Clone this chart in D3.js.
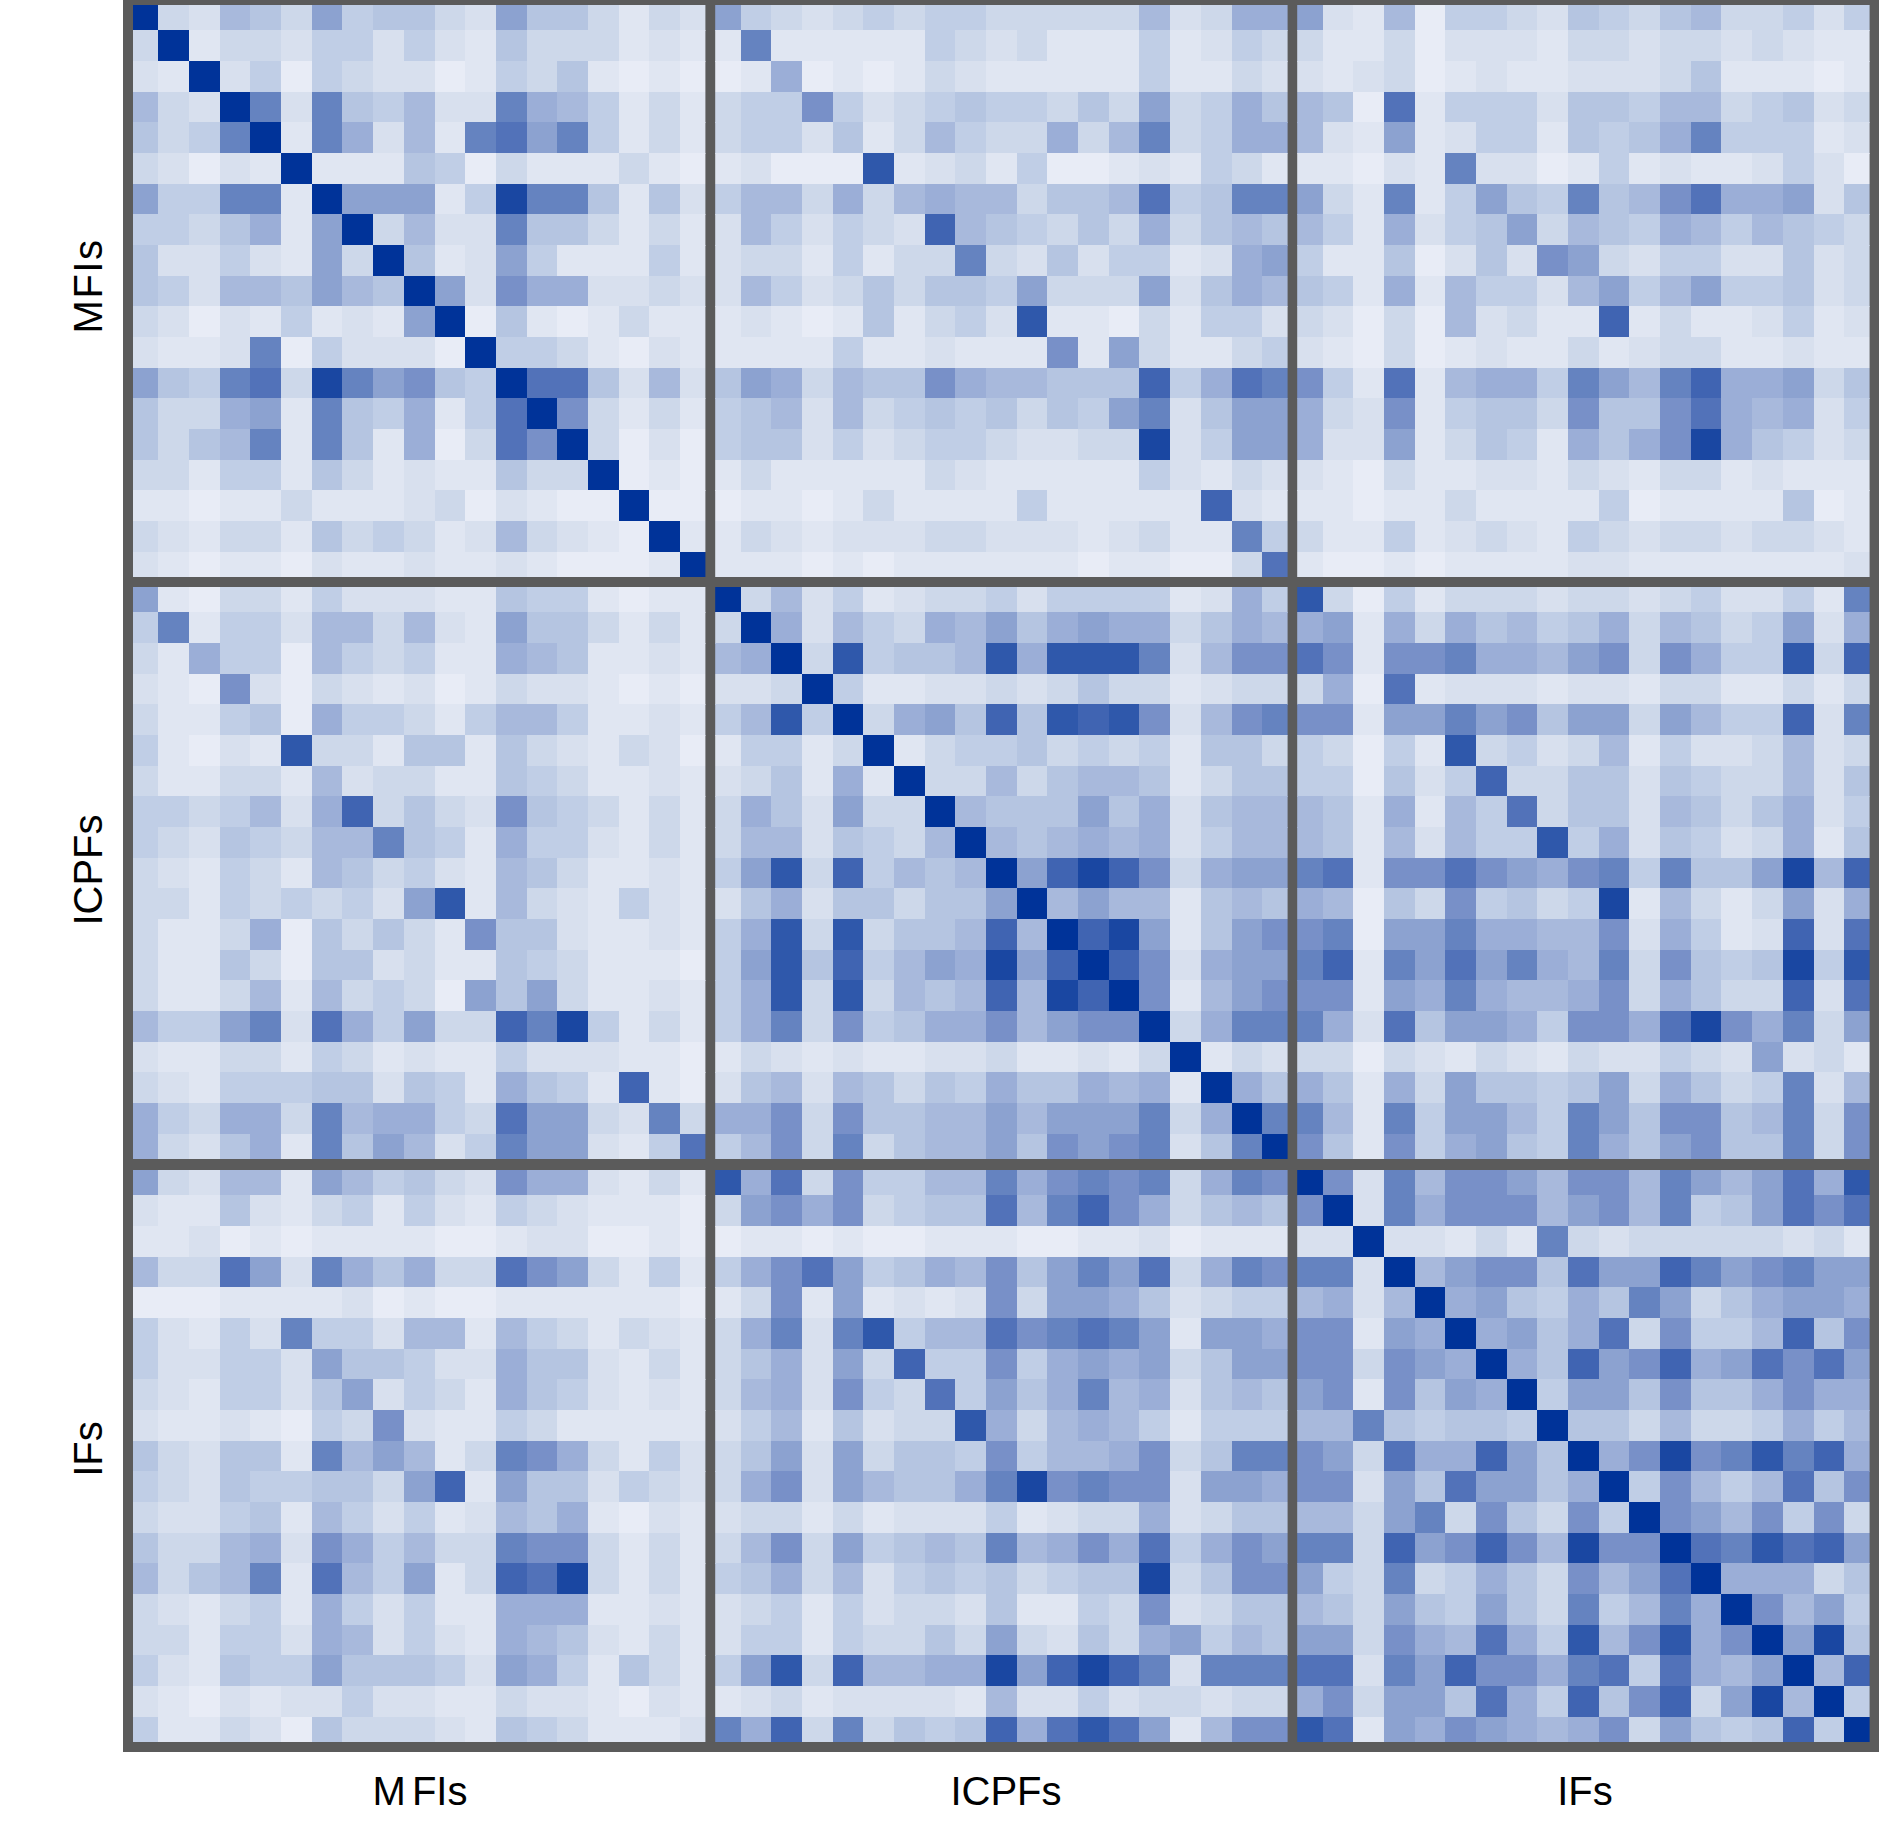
<!DOCTYPE html>
<html><head><meta charset="utf-8">
<style>html,body{margin:0;background:#fff}svg{display:block}text{font-family:"Liberation Sans",Arial,sans-serif;fill:#000}</style>
<script src="https://cdn.jsdelivr.net/npm/d3@7"></script></head><body><div id="c"></div>
<script>
const groups = ["MFIs","ICPFs","IFs"];
const colorStops = ["#E8ECF6","#E0E6F2","#D8E0EE","#CDD8EA","#C0CEE6","#B5C5E1","#A8B9DC","#9BAED7","#8CA2D0","#7890C8","#6583C0","#5272B9","#4064B2","#2F58AB","#1A47A2","#003399"];
// values are shading levels 0..15; diagonal blocks list the upper triangle only
const mfiMfi = [
[15,3,2,6,5,3,8,4,5,5,3,2,8,5,5,3,1,3,2],
[15,1,3,3,2,4,4,2,4,2,1,5,3,3,3,1,2,1],
[15,2,4,0,4,3,2,2,0,1,4,3,5,1,0,1,0],
[15,10,2,10,5,4,6,2,2,10,7,6,4,1,3,1],
[15,1,10,7,2,6,1,10,11,8,10,4,1,3,1],
[15,1,1,1,5,4,0,3,1,1,1,3,1,0],
[15,8,8,8,1,4,14,10,10,5,1,5,2],
[15,3,6,2,2,10,5,5,3,1,3,1],
[15,5,1,2,8,4,1,1,1,4,1],
[15,8,2,9,7,7,2,2,3,2],
[15,0,5,1,0,1,3,1,1],
[15,4,4,3,1,0,2,1],
[15,11,11,5,2,6,2],
[15,9,3,1,3,1],
[15,3,0,2,0],
[15,0,1,0],
[15,0,0],
[15,1],
[15]];
const mfiIcpf = [
[8,4,3,2,3,4,3,4,4,3,3,3,3,3,6,2,3,7,7],
[1,10,1,1,1,1,1,4,3,2,3,1,1,1,4,1,2,4,3],
[0,1,7,0,1,0,1,3,2,1,1,1,1,1,4,1,1,3,2],
[3,4,4,9,4,2,3,4,5,4,4,3,5,3,8,3,4,7,5],
[3,4,4,2,5,1,3,6,4,3,3,7,3,6,10,3,4,7,7],
[1,2,0,0,0,13,1,2,3,1,4,0,0,1,2,1,4,3,1],
[4,6,6,3,7,3,6,7,6,6,3,5,5,6,11,4,5,10,10],
[2,6,4,2,4,3,2,12,6,5,4,3,5,3,7,3,5,6,5],
[2,3,3,1,4,1,3,3,10,3,2,5,2,4,4,1,2,7,8],
[2,6,4,2,3,5,3,5,5,4,8,3,3,3,8,2,5,7,6],
[1,2,1,0,1,5,1,3,4,2,13,1,1,0,3,1,4,4,2],
[1,1,1,1,4,1,1,2,1,1,1,9,1,8,3,1,1,3,4],
[5,8,7,3,6,5,5,9,7,6,6,5,5,5,12,4,7,11,10],
[4,5,6,2,6,3,4,5,4,5,3,5,4,8,10,2,5,8,8],
[4,5,5,2,4,2,3,4,4,3,2,2,3,3,14,2,4,8,8],
[1,3,1,1,1,1,1,3,2,1,1,1,1,1,4,2,1,3,2],
[0,1,1,0,1,3,1,1,1,1,4,1,1,1,1,1,12,2,1],
[1,3,2,1,2,2,2,3,3,2,2,2,1,2,3,1,1,10,4],
[1,1,1,0,1,0,1,1,1,1,1,1,0,1,1,0,0,3,11]];
const mfiIf = [
[8,2,1,6,0,4,4,3,2,5,4,3,5,6,3,3,4,2,4],
[3,1,1,3,0,2,2,2,1,3,3,2,3,3,2,3,2,1,1],
[2,1,2,3,0,1,2,1,1,2,2,2,3,5,1,1,1,0,1],
[6,5,0,11,1,4,4,4,2,5,5,4,6,6,3,4,5,2,3],
[6,2,1,8,1,2,4,4,1,5,4,5,7,10,4,4,4,1,2],
[1,1,0,2,1,10,2,2,0,1,4,1,2,1,1,2,4,2,0],
[8,3,1,10,1,4,8,5,4,10,5,6,9,11,7,7,8,2,5],
[6,4,1,7,2,4,5,8,3,6,5,4,7,6,4,6,5,4,3],
[4,1,1,5,0,2,5,2,9,8,3,2,4,4,2,2,5,2,3],
[5,4,1,7,1,6,4,4,2,6,8,4,6,8,4,4,5,2,3],
[3,2,0,3,0,6,2,3,1,1,12,1,3,1,1,2,4,1,2],
[2,1,0,3,0,1,2,1,1,3,1,2,3,3,1,1,2,1,1],
[9,4,1,11,1,6,7,7,4,10,8,6,10,12,7,7,8,3,5],
[7,3,2,9,1,4,5,5,3,9,5,5,9,11,7,6,7,2,4],
[7,2,2,8,1,3,5,4,1,7,5,7,9,14,7,5,4,2,3],
[2,1,0,3,1,1,2,2,1,3,2,1,3,3,1,2,1,1,1],
[1,1,0,1,1,3,1,1,1,1,4,0,1,1,1,1,5,0,1],
[3,1,1,4,1,2,3,2,1,4,3,2,3,3,2,3,3,2,1],
[1,0,0,1,0,1,1,1,1,2,2,1,1,1,1,1,1,1,2]];
const icpfIcpf = [
[15,3,6,2,4,1,2,3,3,4,2,4,4,4,4,1,2,7,4],
[15,7,2,6,4,3,7,6,8,5,7,8,7,7,3,5,7,6],
[15,3,13,4,5,5,6,13,7,13,13,13,10,2,6,9,9],
[15,4,1,1,2,2,3,2,3,5,3,3,1,2,3,3],
[15,3,7,8,5,12,5,13,12,13,9,2,6,9,10],
[15,1,3,4,4,5,3,4,3,4,1,5,5,3],
[15,3,3,6,3,5,6,6,5,1,3,5,5],
[15,6,5,5,5,8,5,7,2,5,6,6],
[15,6,5,6,7,6,7,2,4,6,6],
[15,8,12,14,12,9,3,7,8,8],
[15,6,8,6,6,1,5,6,5],
[15,12,14,8,1,5,8,9],
[15,12,9,2,7,8,8],
[15,9,1,6,8,9],
[15,3,7,10,10],
[15,1,3,2],
[15,7,5],
[15,10],
[15]];
const icpfIf = [
[13,3,0,4,1,3,3,3,2,3,3,2,3,4,2,2,4,1,10],
[7,8,1,7,3,7,5,6,4,5,7,3,6,5,3,4,8,2,7],
[11,9,1,9,9,10,7,7,6,8,9,3,9,7,4,4,13,3,12],
[3,7,0,11,1,2,2,2,1,2,2,1,3,3,1,1,3,1,3],
[9,9,1,8,8,10,8,9,5,8,8,3,8,6,4,4,12,2,10],
[4,3,0,4,1,13,3,4,2,3,6,1,4,2,2,3,6,2,3],
[4,4,0,5,2,4,12,3,3,5,5,2,5,4,3,3,6,2,5],
[6,5,1,7,1,6,4,11,3,5,5,2,6,5,3,5,7,2,4],
[6,5,1,6,2,6,4,4,13,4,7,2,5,4,2,3,7,1,5],
[10,11,1,9,9,11,9,8,7,9,10,4,10,5,5,8,14,6,12],
[7,6,0,5,3,9,4,5,3,4,14,1,6,3,1,3,8,2,7],
[9,10,0,8,8,10,7,7,6,6,9,2,7,4,1,2,12,2,11],
[10,12,1,10,8,11,8,10,7,6,10,3,9,5,4,5,14,4,13],
[9,9,1,8,7,10,7,6,6,7,9,3,7,5,3,3,12,2,11],
[10,7,2,11,5,8,8,7,4,9,9,7,11,14,9,7,10,3,8],
[3,3,0,3,2,1,3,2,1,3,2,2,4,3,2,8,2,3,1],
[7,5,1,7,3,8,5,5,4,5,8,3,7,5,3,4,10,2,6],
[10,6,1,10,4,8,8,6,4,10,8,5,9,9,5,6,10,3,9],
[9,5,1,9,4,7,8,5,4,10,7,5,8,9,5,5,10,3,9]];
const ifIf = [
[15,9,2,10,6,9,9,8,6,9,9,6,10,8,6,8,11,7,13],
[15,2,10,7,9,9,9,6,8,9,6,10,4,5,8,11,9,11],
[15,2,2,1,3,1,10,3,2,3,3,3,3,3,2,3,1],
[15,6,8,9,9,5,11,8,8,12,10,8,9,10,8,8],
[15,7,8,5,4,7,5,10,8,3,5,7,8,8,7],
[15,7,8,5,7,11,3,9,4,4,6,12,5,9],
[15,7,5,12,8,9,12,7,8,11,9,11,8],
[15,4,8,8,5,9,5,5,7,9,7,7],
[15,5,5,3,6,3,3,4,7,4,6],
[15,7,9,14,9,10,13,10,12,7],
[15,4,9,6,4,6,11,5,9],
[15,9,8,6,9,4,9,3],
[15,11,10,13,11,12,8],
[15,7,7,7,3,5],
[15,9,6,8,4],
[15,8,14,5],
[15,6,12],
[15,4],
[15]];

const N = 19, G = groups.length, W = 1890, H = 1845;
const panelX = [133,715.2,1297.2], panelY = [5,587,1170], panelW = 572.4, panelH = 572;
const trim = 5.3; // first and last cell of each panel are clipped by the panel edge
const frame = {l:123,t:0,r:1879,b:1752};

const cells = [];
function addBlock(rows, gr, gc, triangular){
  rows.forEach((row,i)=>row.forEach((v,k)=>{
    const j = triangular ? i+k : k;
    cells.push({gr,gc,i,j,v});
    if(gr!==gc || i!==j) cells.push({gr:gc,gc:gr,i:j,j:i,v});
  }));
}
addBlock(mfiMfi,0,0,true); addBlock(mfiIcpf,0,1,false); addBlock(mfiIf,0,2,false);
addBlock(icpfIcpf,1,1,true); addBlock(icpfIf,1,2,false); addBlock(ifIf,2,2,true);

const color = d3.scaleLinear().domain(d3.range(colorStops.length)).range(colorStops);
const idx = d3.range(N);
const xs = panelX.map(p=>d3.scaleBand().domain(idx).range([p-trim,p+panelW+trim]));
const ys = panelY.map(p=>d3.scaleBand().domain(idx).range([p-trim,p+panelH+trim]));

const svg = d3.select("#c").append("svg").attr("width",W).attr("height",H);
const defs = svg.append("defs");
d3.range(G).forEach(r=>d3.range(G).forEach(c=>{
  defs.append("clipPath").attr("id",`p${r}${c}`).append("rect")
    .attr("x",panelX[c]).attr("y",panelY[r]).attr("width",panelW).attr("height",panelH);
}));
svg.append("rect").attr("x",frame.l).attr("y",frame.t).attr("width",frame.r-frame.l).attr("height",frame.b-frame.t).attr("fill","#5B5B5B");
svg.append("g").selectAll("g").data(d3.cross(d3.range(G),d3.range(G))).join("g")
  .attr("clip-path",d=>`url(#p${d[0]}${d[1]})`).attr("shape-rendering","crispEdges")
  .selectAll("rect").data(d=>cells.filter(c=>c.gr===d[0]&&c.gc===d[1])).join("rect")
  .attr("x",d=>xs[d.gc](d.j)).attr("y",d=>ys[d.gr](d.i))
  .attr("width",d=>xs[d.gc].bandwidth()+0.5).attr("height",d=>ys[d.gr].bandwidth()+0.5)
  .attr("fill",d=>color(d.v));

const xLab = [420,1006,1585], yLab = [286,870,1449];
svg.append("g").selectAll("text").data(groups).join("text")
  .attr("x",(d,i)=>xLab[i]).attr("y",1805).attr("text-anchor","middle").attr("font-size",40)
  .each(function(d){
    const t = d3.select(this);
    if(d==="MFIs"){ t.append("tspan").text("M"); t.append("tspan").attr("dx",6).text("FIs"); }
    else t.text(d);
  });
svg.append("g").selectAll("text").data(groups).join("text")
  .attr("transform",(d,i)=>`translate(102,${yLab[i]}) rotate(-90)`).attr("text-anchor","middle").attr("font-size",40)
  .attr("letter-spacing",d=>d==="MFIs"?1.5:0).text(d=>d);
</script></body></html>
